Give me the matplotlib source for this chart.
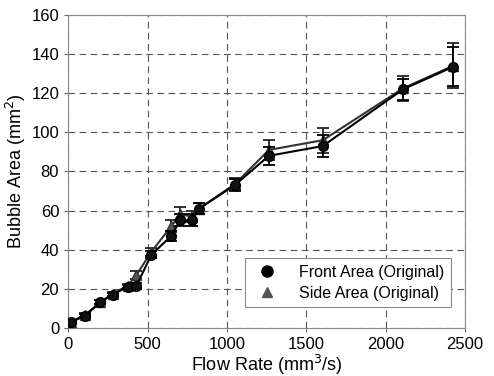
import matplotlib
matplotlib.use("Agg")
import matplotlib.pyplot as plt

plt.rcParams['font.family'] = ['Liberation Sans', 'DejaVu Sans']

flow = [15, 105, 200, 280, 375, 430, 525, 650, 705, 780, 825, 1050, 1265, 1605, 2110, 2425]
front_area = [3, 6, 13, 17, 21, 21.5, 37.5, 47, 55, 55, 61, 73, 88, 93, 122, 133.5]
side_area = [3, 6.5, 13, 17.5, 21.5, 27, 39, 52, 58, 57, 61, 73.5, 91, 96, 122.5, 134]
front_err = [1, 1, 1, 1, 1, 1.5, 2, 2.5, 3, 3, 3, 3, 4.5, 5.7, 5.5, 10]
side_err = [1, 1, 1, 1, 1, 2, 2, 3, 4, 3, 3, 3, 5, 6.4, 6.5, 11.5]

xticks = [0, 500, 1000, 1500, 2000, 2500]
yticks = [0, 20, 40, 60, 80, 100, 120, 140, 160]

fig = plt.figure(figsize=(4.94, 3.76), dpi=100)
ax = fig.add_axes([0.138, 0.128, 0.803, 0.832])

ax.errorbar(flow, side_area, yerr=side_err, color='#333333', lw=1.5,
            marker='^', ms=7, mfc='#555555', mec='#333333',
            ecolor='#222222', elinewidth=1.3, capsize=4, capthick=1.3,
            label='Side Area (Original)', zorder=3)
ax.errorbar(flow, front_area, yerr=front_err, color='black', lw=1.5,
            marker='o', ms=7, mfc='#111111', mec='black',
            ecolor='black', elinewidth=1.3, capsize=4, capthick=1.3,
            label='Front Area (Original)', zorder=4)

ax.set_xlim(0, 2500)
ax.set_ylim(0, 160)
ax.set_xticks(xticks)
ax.set_yticks(yticks)
ax.tick_params(labelsize=12, length=3, color='#666666')
ax.grid(True, color='#555555', linestyle=(0, (6, 4)), lw=0.8)
for s in ax.spines.values():
    s.set_color('#888888')
    s.set_linewidth(0.8)

ax.set_xlabel('Flow Rate (mm$^3$/s)', fontsize=13, labelpad=1)
ax.set_ylabel('Bubble Area (mm$^2$)', fontsize=13, labelpad=2)

handles, labels = ax.get_legend_handles_labels()
from matplotlib.lines import Line2D
h = [Line2D([], [], ls='none', marker='o', ms=8, color='black'),
     Line2D([], [], ls='none', marker='^', ms=7, color='#555555')]
leg = ax.legend(h, ['Front Area (Original)', 'Side Area (Original)'],
                loc='lower right', bbox_to_anchor=(0.985, 0.04), fontsize=11.5,
                fancybox=False, framealpha=1, edgecolor='#888888',
                handletextpad=1.0, borderpad=0.4, labelspacing=0.4)
leg.get_frame().set_linewidth(0.8)

fig.savefig('out.png', dpi=100)
